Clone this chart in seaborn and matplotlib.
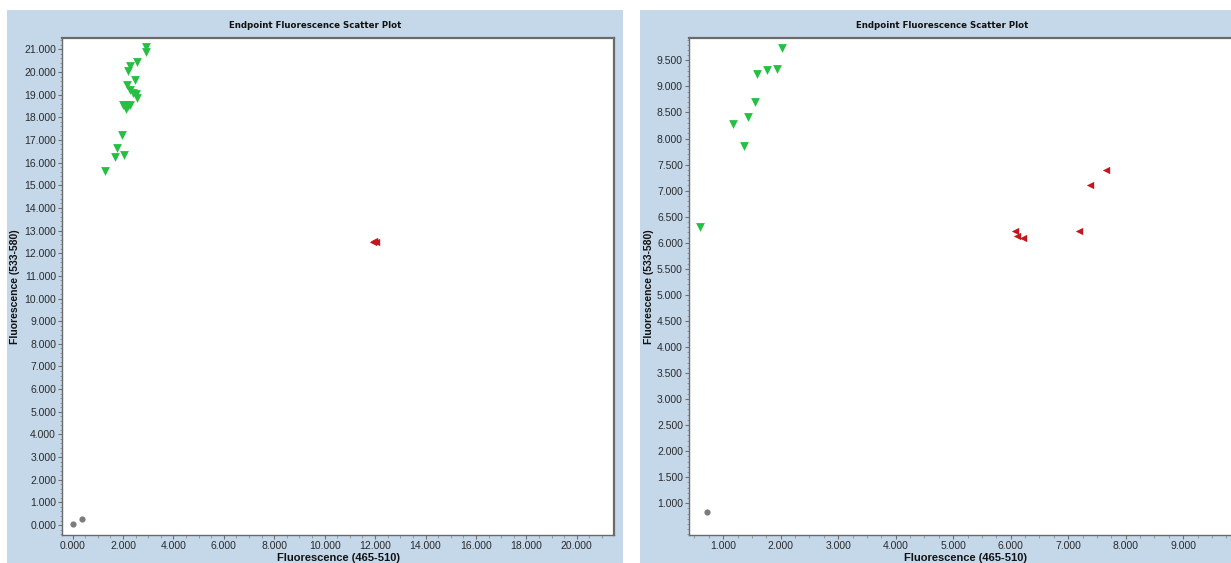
import numpy as np
import pandas as pd
import matplotlib
matplotlib.use("Agg")
import matplotlib.pyplot as plt
from matplotlib.patches import Rectangle
from matplotlib.ticker import MultipleLocator, FormatStrFormatter
import seaborn as sns

sns.set_style("white")
plt.rcParams['font.family'] = ['Liberation Sans Narrow', 'Liberation Sans', 'DejaVu Sans']

# ---- data (values in thousands) ----
left_green_x = [2.90, 2.90, 2.54, 2.27, 2.20, 2.48, 2.15, 2.27, 2.38, 2.51, 2.54,
                2.00, 2.12, 2.28, 2.10, 2.20, 1.96, 1.76, 1.68, 2.04, 1.30]
left_green_y = [21.10, 20.88, 20.44, 20.26, 20.03, 19.66, 19.44, 19.19, 19.07, 19.04, 18.87,
                18.55, 18.55, 18.55, 18.35, 18.48, 17.20, 16.65, 16.25, 16.35, 15.62]
left_red_x = [11.90, 11.97, 12.02]
left_red_y = [12.50, 12.52, 12.49]
left_gray_x = [0.00, 0.36]
left_gray_y = [0.04, 0.26]

right_green_x = [2.02, 1.59, 1.76, 1.93, 1.56, 1.43, 1.18, 1.36, 0.60]
right_green_y = [9.74, 9.24, 9.32, 9.33, 8.71, 8.42, 8.27, 7.85, 6.31]
right_red_x = [7.66, 7.38, 7.19, 6.07, 6.11, 6.22]
right_red_y = [7.40, 7.11, 6.23, 6.22, 6.12, 6.10]
right_gray_x = [0.72]
right_gray_y = [0.84]

title = "Endpoint Fluorescence Scatter Plot"
xlabel = "Fluorescence (465-510)"
ylabel = "Fluorescence (533-580)"

palette = {"pos": "#25c043", "red": "#c4161f", "neg": "#7c7c7c"}
markers = {"pos": "v", "red": "<", "neg": "o"}
sizes = {"pos": 40, "red": 28, "neg": 20}


def make_df(gx, gy, rx, ry, nx, ny):
    return pd.DataFrame({
        "x": gx + rx + nx,
        "y": gy + ry + ny,
        "grp": ["pos"] * len(gx) + ["red"] * len(rx) + ["neg"] * len(nx),
    })


left_df = make_df(left_green_x, left_green_y, left_red_x, left_red_y, left_gray_x, left_gray_y)
right_df = make_df(right_green_x, right_green_y, right_red_x, right_red_y, right_gray_x, right_gray_y)

W, H = 1231, 563
fig = plt.figure(figsize=(W / 100, H / 100), dpi=100, facecolor="white")

bg = "#c5d8ea"
for x0, x1 in [(7, 623), (640, 1256)]:
    fig.patches.append(Rectangle((x0 / W, 0), (x1 - x0) / W, (H - 10) / H,
                                 transform=fig.transFigure, facecolor=bg,
                                 edgecolor="none", zorder=-10))

ax_l = fig.add_axes([62.3 / W, (H - 535) / H, 552 / W, 497 / H])
ax_r = fig.add_axes([689.2 / W, (H - 535) / H, 552 / W, 497 / H])

panels = [
    (ax_l, left_df, (-0.41, 21.49), (-0.44, 21.5), 0.5, 0.2, 315, -0.077),
    (ax_r, right_df, (0.41, 10.01), (0.39, 9.93), 0.25, 0.1, 942, -0.064),
]

for ax, df, xl, yl, xmin_, ymin_, tx, ylx in panels:
    ax.set_facecolor("white")
    for g in ["neg", "red", "pos"]:
        sub = df[df["grp"] == g]
        sns.scatterplot(data=sub, x="x", y="y", ax=ax, color=palette[g],
                        marker=markers[g], s=sizes[g], linewidth=0, legend=False,
                        zorder=3)
    ax.set_xlim(*xl)
    ax.set_ylim(*yl)
    if ax is ax_l:
        ax.set_xticks([v for v in range(0, 21, 2)])
        ax.set_yticks([v for v in range(0, 22)])
    else:
        ax.set_xticks([v for v in range(1, 10)])
        ax.set_yticks([v / 2 for v in range(2, 20)])
    ax.xaxis.set_minor_locator(MultipleLocator(xmin_))
    ax.yaxis.set_minor_locator(MultipleLocator(ymin_))
    ax.xaxis.set_major_formatter(FormatStrFormatter("%.3f"))
    ax.yaxis.set_major_formatter(FormatStrFormatter("%.3f"))
    ax.tick_params(axis="both", which="major", direction="out", length=3, width=0.8,
                   color="#707070", labelsize=7.5, labelcolor="#2a2a2a", pad=1.5)
    ax.tick_params(axis="both", which="minor", direction="out", length=1.8, width=0.6,
                   color="#909090")
    ax.tick_params(left=True, bottom=True, which="both")
    for side, sp in ax.spines.items():
        sp.set_visible(True)
        sp.set_color("#6a6a6a")
        sp.set_linewidth(1.6 if side in ("top", "right") else 1.0)
    ax.set_xlabel(xlabel, fontsize=8, fontweight="bold", color="#111111")
    ax.set_ylabel(ylabel, fontsize=7.5, fontweight="bold", color="#111111")
    ax.xaxis.set_label_coords(0.5, -0.036)
    ax.yaxis.set_label_coords(ylx, 0.5)
    fig.text(tx / W, 1 - 26 / H, title, ha="center", va="center", fontsize=6.2,
             fontweight="bold", family=["DejaVu Sans"], color="#111111")

fig.savefig("out.png", dpi=100, facecolor="white")
